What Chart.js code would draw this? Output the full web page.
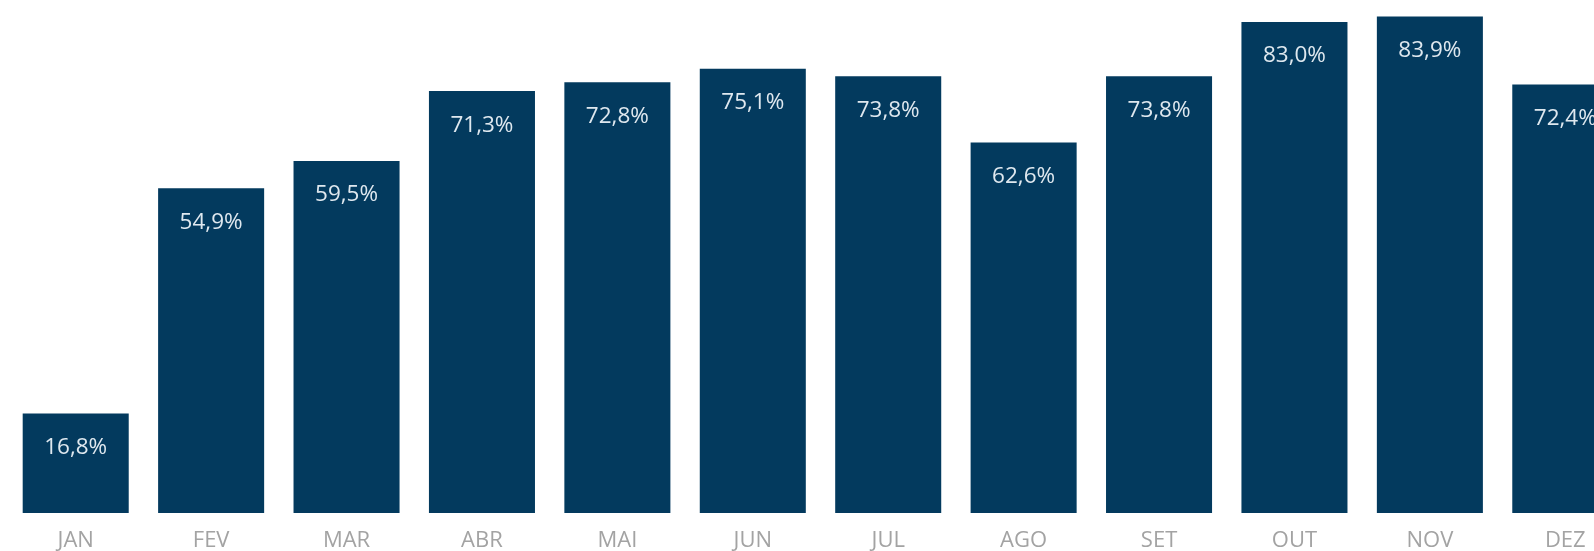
<!DOCTYPE html>
<html>
<head>
<meta charset="utf-8">
<script src="https://cdn.jsdelivr.net/npm/chart.js@4"></script>
<style>
  html, body { margin: 0; padding: 0; background: #ffffff; overflow: hidden; }
  #wrap { width: 1633px; height: 551px; }
</style>
</head>
<body>
<div id="wrap"><canvas id="c" width="1633" height="551"></canvas></div>
<script>
const months = ["JAN", "FEV", "MAR", "ABR", "MAI", "JUN", "JUL", "AGO", "SET", "OUT", "NOV", "DEZ"];
const values = [16.8, 54.9, 59.5, 71.3, 72.8, 75.1, 73.8, 62.6, 73.8, 83.0, 83.9, 72.4];
const valueLabels = ["16,8%", "54,9%", "59,5%", "71,3%", "72,8%", "75,1%", "73,8%", "62,6%", "73,8%", "83,0%", "83,9%", "72,4%"];

const barLabelPlugin = {
  id: 'barLabels',
  afterDatasetsDraw(chart) {
    const ctx = chart.ctx;
    const meta = chart.getDatasetMeta(0);
    ctx.save();
    ctx.fillStyle = '#dfe8ef';
    ctx.font = '22.5px "Open Sans", "Noto Sans", sans-serif';
    ctx.textAlign = 'center';
    ctx.textBaseline = 'middle';
    meta.data.forEach((bar, i) => {
      ctx.fillText(valueLabels[i], bar.x, bar.y + 34);
    });
    ctx.restore();
  }
};

new Chart(document.getElementById('c'), {
  type: 'bar',
  data: {
    labels: months,
    datasets: [{
      data: values,
      backgroundColor: '#033a5e',
      borderWidth: 0,
      categoryPercentage: 1.0,
      barPercentage: 0.783
    }]
  },
  options: {
    responsive: false,
    animation: false,
    layout: { padding: { left: 8, right: 0, top: 0, bottom: 0 } },
    plugins: { legend: { display: false }, tooltip: { enabled: false } },
    scales: {
      x: {
        grid: { display: false, drawTicks: false },
        border: { display: false },
        ticks: {
          color: '#a3a3a3',
          font: { family: '"Open Sans", "Noto Sans", sans-serif', size: 22 },
          padding: 15
        },
        afterFit(scale) { scale.height = 38; }
      },
      y: {
        display: false,
        min: 0,
        max: 86.7
      }
    }
  },
  plugins: [barLabelPlugin]
});
</script>
</body>
</html>
